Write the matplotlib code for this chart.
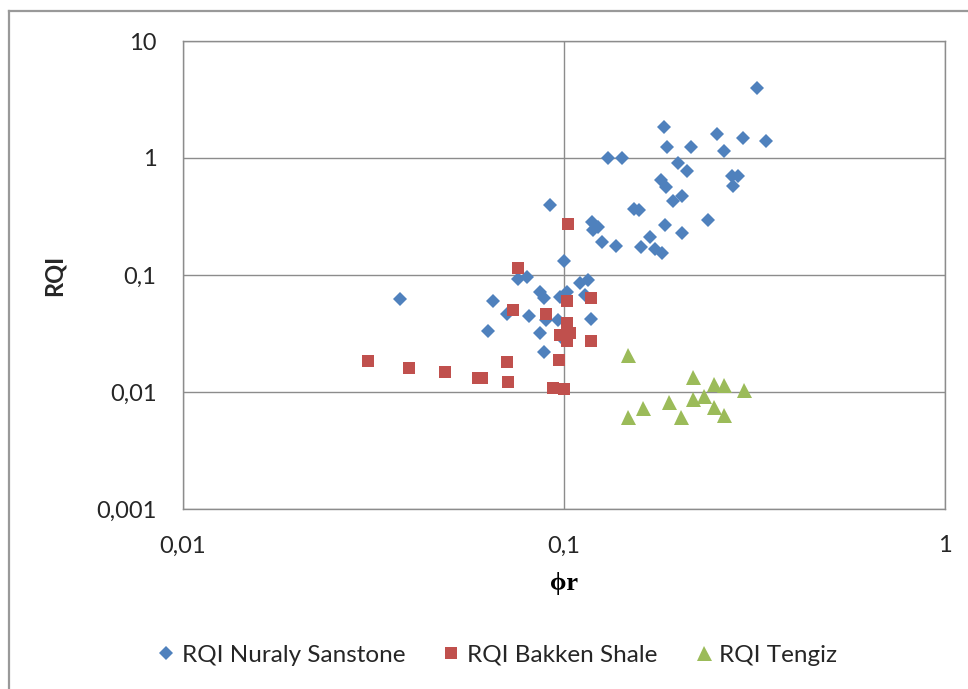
import matplotlib.pyplot as plt
from matplotlib.lines import Line2D
from matplotlib.ticker import FuncFormatter, NullLocator

# RQI Nuraly Sanstone
nuraly_phi = [0.0371, 0.0651, 0.0632, 0.0708, 0.0757, 0.0800, 0.0809, 0.0865, 0.0886,
              0.0865, 0.0886, 0.0895, 0.0976, 0.1019, 0.0964, 0.0997, 0.110, 0.1156,
              0.1136, 0.118, 0.0918, 0.100,
              0.1184, 0.1227, 0.119, 0.1258, 0.137, 0.159, 0.168, 0.173, 0.181,
              0.153, 0.157, 0.239, 0.184, 0.204, 0.193, 0.204, 0.180, 0.185,
              0.276, 0.286, 0.278, 0.199, 0.210, 0.1305, 0.142, 0.186, 0.215,
              0.263, 0.183, 0.252, 0.295, 0.339, 0.321]
nuraly_rqi = [0.0624, 0.0600, 0.0332, 0.0464, 0.0925, 0.0962, 0.0447, 0.0716, 0.0636,
              0.0319, 0.0220, 0.0410, 0.0649, 0.0716, 0.0412, 0.0278, 0.0855, 0.0906,
              0.0675, 0.0421, 0.396, 0.132,
              0.284, 0.257, 0.243, 0.191, 0.177, 0.173, 0.211, 0.167, 0.154,
              0.366, 0.358, 0.295, 0.267, 0.229, 0.429, 0.473, 0.649, 0.565,
              0.702, 0.702, 0.576, 0.906, 0.774, 1.0, 1.0, 1.24, 1.24,
              1.15, 1.84, 1.60, 1.48, 1.40, 3.96]

# RQI Bakken Shale
bakken_phi = [0.1024, 0.0757, 0.0734, 0.0898, 0.1019, 0.118, 0.1019, 0.0976, 0.1037,
              0.1019, 0.118, 0.0970, 0.0708, 0.0306, 0.0392, 0.0487, 0.0595, 0.0610,
              0.0713, 0.0935, 0.100]
bakken_rqi = [0.273, 0.115, 0.0502, 0.0464, 0.060, 0.0636, 0.0389, 0.0307, 0.0319,
              0.0273, 0.0273, 0.0188, 0.0180, 0.0184, 0.0160, 0.0148, 0.0132, 0.0132,
              0.0122, 0.0108, 0.0106]

# RQI Tengiz
tengiz_phi = [0.1472, 0.218, 0.2476, 0.263, 0.297, 0.233, 0.218, 0.1887, 0.161,
              0.2476, 0.1472, 0.2028, 0.263]
tengiz_rqi = [0.0207, 0.0134, 0.0117, 0.0115, 0.0104, 0.00924, 0.0087, 0.0082, 0.0073,
              0.00744, 0.0061, 0.0061, 0.00636]

fig = plt.figure(figsize=(9.68, 6.89), dpi=100)
ax = fig.add_axes([183/968, 1 - 509/689, (945 - 183)/968, (509 - 41)/689])

ax.plot(nuraly_phi, nuraly_rqi, linestyle='none', marker='D', markersize=7.6,
        markeredgewidth=0, color='#4F81BD', label='RQI Nuraly Sanstone', zorder=3)
ax.plot(bakken_phi, bakken_rqi, linestyle='none', marker='s', markersize=8.6,
        markeredgewidth=0, color='#C0504D', label='RQI Bakken Shale', zorder=4)
ax.plot(tengiz_phi, tengiz_rqi, linestyle='none', marker='^', markersize=10.8,
        markeredgewidth=0, color='#9BBB59', label='RQI Tengiz', zorder=5)

ax.set_xscale('log')
ax.set_yscale('log')
ax.set_xlim(0.01, 1)
ax.set_ylim(0.001, 10)
ax.xaxis.set_minor_locator(NullLocator())
ax.yaxis.set_minor_locator(NullLocator())

comma = FuncFormatter(lambda v, pos: f'{v:g}'.replace('.', ','))
ax.xaxis.set_major_formatter(comma)
ax.yaxis.set_major_formatter(comma)

ax.grid(True, which='major', color='#8c8c8c', linewidth=1)
for sp in ax.spines.values():
    sp.set_color('#8c8c8c')
    sp.set_linewidth(1)

ax.tick_params(length=0, labelsize=17, labelcolor='#262626')
ax.tick_params(axis='x', pad=19)
ax.tick_params(axis='y', pad=19)
for lbl in ax.get_xticklabels() + ax.get_yticklabels():
    lbl.set_family('Lato')

ax.set_xlabel('ϕr', family=['Liberation Serif', 'DejaVu Serif'], fontweight='bold',
              fontsize=19, labelpad=11)
ax.set_ylabel('RQI', family='Lato', fontweight='bold', fontsize=17, labelpad=22,
              color='#262626')

fig.legend(loc='center', bbox_to_anchor=(498/968, 1 - 655/689), ncol=3, frameon=False,
           prop={'family': 'Lato', 'size': 17.5}, handlelength=0.6, handletextpad=0.35,
           columnspacing=1.6, labelcolor='#262626')

# outer chart frame
fig.add_artist(Line2D([9/968, 9/968], [0, 1 - 11/689], transform=fig.transFigure,
                      color='#999999', linewidth=1.6))
fig.add_artist(Line2D([9/968, 1], [1 - 11/689, 1 - 11/689], transform=fig.transFigure,
                      color='#999999', linewidth=1.6))

fig.savefig('out.png', dpi=100, facecolor='white')
